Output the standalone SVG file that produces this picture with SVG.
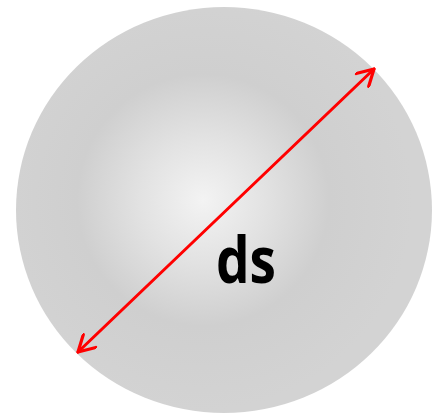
<svg xmlns="http://www.w3.org/2000/svg" width="433" height="414" viewBox="0 0 433 414">
<style>
.dim{stroke:#ff0000;stroke-width:3;fill:none;stroke-linecap:round}
.lbl{font-family:"Open Sans","Liberation Sans",sans-serif;font-weight:bold;font-size:64px;fill:#000}
</style>
<defs>
<radialGradient id="g" cx="203" cy="200" r="210" gradientUnits="userSpaceOnUse">
<stop offset="0" stop-color="#f3f3f3"/>
<stop offset="0.3" stop-color="#e2e2e2"/>
<stop offset="0.6" stop-color="#cfcfcf"/>
<stop offset="1" stop-color="#d3d3d3"/>
</radialGradient>
<marker id="ah" viewBox="-20 -10 22 20" refX="0" refY="0" markerWidth="22" markerHeight="20" markerUnits="userSpaceOnUse" orient="auto-start-reverse">
<path d="M-16,-9 L0,0 L-16,9" fill="none" stroke="#ff0000" stroke-width="3.2" stroke-linecap="round" stroke-linejoin="round"/>
</marker>
</defs>
<g id="sphere">
<ellipse cx="224" cy="210" rx="208" ry="203" fill="url(#g)"/>
</g>
<g id="connectors">
<line class="dim" x1="78" y1="352" x2="374" y2="69" marker-start="url(#ah)" marker-end="url(#ah)"/>
</g>
<g id="label">
<text class="lbl" x="216" y="283" textLength="60" lengthAdjust="spacingAndGlyphs">ds</text>
</g>
</svg>
